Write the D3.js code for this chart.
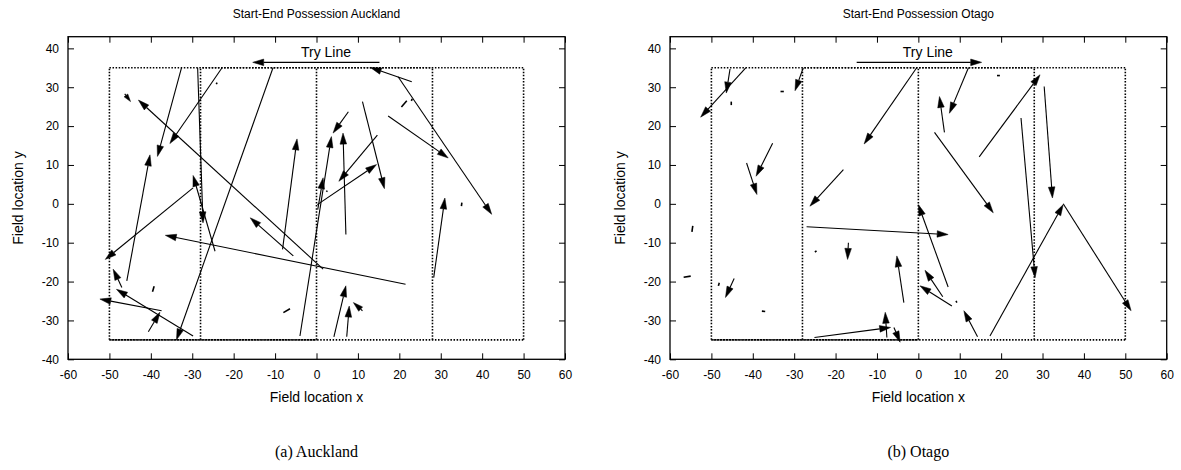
<!DOCTYPE html>
<html>
<head>
<meta charset="utf-8">
<script src="https://cdn.jsdelivr.net/npm/d3@7"></script>
<style>
body{margin:0;background:#fff;}
</style>
</head>
<body>
<div id="svgArea"></div>
<script>
// each arrow: [startX, startY, endX, endY] in field coordinates
var aucklandArrows = [
  [-32.6,35,-38.4,12.2], [-22.8,35,-35.4,15.5], [-28.7,35,-27.4,-4.9],
  [-45.8,-19.8,-40.2,12.6], [-10.5,35,-33.8,-35], [1.6,-16.8,-43,26.7],
  [-5.6,-13.4,-16,-3.6], [-8.2,-11.7,-4.7,16.7], [21.5,-20.7,-36.5,-8.1],
  [-29.8,4.1,-51,-14.3], [-24.5,-12.2,-29.8,7.3], [-47,-21.5,-49.1,-16.8],
  [-29.8,-34,-48.3,-22], [-37.4,-27.5,-52.3,-24.5], [-40.6,-32.9,-37.8,-27.9],
  [-39.6,-22.6,-39.2,-21.2], [-8,-28,-6.4,-27], [-4,-34,3.6,17.3],
  [0.3,-1.5,1.6,6.7], [7.7,23.7,4,18.2], [7.1,-7.9,6.4,18.2],
  [11.1,26.3,16.4,3.9], [14.7,17.7,5.4,5.8], [0.2,-0.2,14.5,10.1],
  [17.3,22.6,31.8,11.8], [23,31.4,13,35.1], [19.7,32.7,42.3,-2.7],
  [20.5,24.9,21.8,26.5], [28.3,-19,31,1.5], [35,-0.6,35.1,0.3],
  [4.2,-34.2,7.1,-21.1], [7.3,-34.2,7.9,-26.3], [11.1,-27.5,8.9,-25.4],
  [-46.3,28.3,-44.9,26.3], [-24.2,30.8,-24,31.2], [2.4,3.1,2.6,3.4],
  [22.9,26.5,23.1,27]
];

var otagoArrows = [
  [-45.5,34.7,-46.4,28.5], [-41.7,35,-52.6,22.3], [-45.2,26.3,-45.2,25.4],
  [-27.8,35,-29.8,29.1], [-33.3,28.9,-32.5,28.9], [-0.4,35,-13.1,15.4],
  [-35.2,15.6,-39.2,7.1], [-41.5,10.5,-39,2.4], [-18.1,8.8,-26.2,-0.6],
  [12.1,35,7.5,23.3], [19,33,19.7,33], [6.3,18.4,5.1,27.6],
  [3.9,18.4,18.1,-2.3], [14.7,12.1,29.4,33.2], [24.8,22.1,28.2,-19],
  [30.4,30.2,32.4,1.5], [17.3,-34,35,-0.2], [35,0,51.4,-27.5],
  [7.2,-21.4,0,-0.2], [-27,-5.9,7.2,-7.9], [5.9,-23.9,1.6,-17.1],
  [8.1,-26.3,0.4,-21.1], [9.1,-25,9.3,-25.4], [14.3,-34.2,11,-27.5],
  [-3.5,-25.4,-5.2,-13.4], [-54.7,-7.2,-54.5,-5.7], [-55,-18.6,-56.7,-18.9],
  [-48.3,-21.1,-48.1,-20.3], [-44.5,-19.2,-46.6,-24.1], [-37,-27.7,-37.8,-27.6],
  [-24.6,-12.1,-25,-12.4], [-16.9,-10,-17.1,-14.3], [-7.6,-34.4,-8,-27.9],
  [-25.1,-34.4,-6.7,-31.8], [-5.9,-31.8,-4.4,-35.6]
];

var xTicks = [-60,-50,-40,-30,-20,-10,0,10,20,30,40,50,60];
var yTicks = [-40,-30,-20,-10,0,10,20,30,40];
var zoneLines = [-28, 0, 28];
var fieldBox = [-50, 50, -35, 35];
var tryLineAuckland = [15.2, -15.4];   // arrow goes from first x to second x
var tryLineOtago = [-14.9, 15.3];
var tryLineY = 36.4;
var panelTitles = ["Start-End Possession Auckland", "Start-End Possession Otago"];
var captions = ["(a) Auckland", "(b) Otago"];

var sans = "'Liberation Sans', Arial, Helvetica, sans-serif";
var svg = d3.select("#svgArea").append("svg").attr("width", 1181).attr("height", 470);

function drawPanel(left, right, arrows, tryLine, title, caption) {
  var g = svg.append("g");
  var xScale = d3.scaleLinear().domain([-60, 60]).range([left, right]);
  var yScale = d3.scaleLinear().domain([-40, 43]).range([359.3, 36.7]);
  var cx = (left + right) / 2;

  // axes, ticks point inward
  var axes = [
    [d3.axisBottom(xScale).tickValues(xTicks).tickFormat(d => String(d)).tickPadding(11), "translate(0,359.3)"],
    [d3.axisTop(xScale).tickValues(xTicks).tickFormat(""), "translate(0,36.7)"],
    [d3.axisLeft(yScale).tickValues(yTicks).tickFormat(d => String(d)).tickPadding(9), "translate(" + left + ",0)"],
    [d3.axisRight(yScale).tickValues(yTicks).tickFormat(""), "translate(" + right + ",0)"]
  ];
  axes.forEach(function(a) {
    var ax = g.append("g").attr("transform", a[1]);
    a[0].tickSizeInner(-6).tickSizeOuter(0)(ax);
    ax.select(".domain").remove();
    ax.attr("font-family", sans).attr("font-size", 12);
    ax.selectAll("line").attr("stroke", "#000").attr("stroke-width", 1);
  });

  g.append("rect")
    .attr("x", left).attr("y", 36.7)
    .attr("width", right - left).attr("height", 359.3 - 36.7)
    .attr("fill", "none").attr("stroke", "#000").attr("stroke-width", 1.3);

  // field zones (dotted)
  function dotted(x1, y1, x2, y2, off) {
    g.append("line")
      .attr("x1", xScale(x1)).attr("y1", yScale(y1))
      .attr("x2", xScale(x2)).attr("y2", yScale(y2))
      .attr("stroke", "#000").attr("stroke-width", 1.6)
      .attr("stroke-dasharray", "1.5,1.6").attr("stroke-dashoffset", off || 0);
  }
  dotted(fieldBox[0], fieldBox[2], fieldBox[1], fieldBox[2]);
  dotted(fieldBox[0], fieldBox[3], fieldBox[1], fieldBox[3]);
  dotted(fieldBox[0], fieldBox[2], fieldBox[0], fieldBox[3]);
  dotted(fieldBox[1], fieldBox[2], fieldBox[1], fieldBox[3]);
  zoneLines.forEach(z => dotted(z, fieldBox[2], z, fieldBox[3]));
  // overlapping borders drawn twice look denser
  dotted(zoneLines[0], fieldBox[3], zoneLines[2], fieldBox[3], 1.2);
  dotted(fieldBox[0], fieldBox[2], zoneLines[1], fieldBox[2], 1.2);

  function drawArrow(d, width) {
    var x1 = xScale(d[0]), y1 = yScale(d[1]), x2 = xScale(d[2]), y2 = yScale(d[3]);
    var dx = x2 - x1, dy = y2 - y1, len = Math.sqrt(dx * dx + dy * dy);
    var ux = dx / len, uy = dy / len;
    if (len < 9) {
      // very short moves show only as a small dash
      g.append("line")
        .attr("x1", x1).attr("y1", y1).attr("x2", x2).attr("y2", y2)
        .attr("stroke", "#000").attr("stroke-width", 1.6);
      return;
    }
    var hl = Math.min(11, len * 0.8), hw = hl * 0.3;
    var bx = x2 - ux * hl, by = y2 - uy * hl;
    g.append("line")
      .attr("x1", x1).attr("y1", y1).attr("x2", bx).attr("y2", by)
      .attr("stroke", "#000").attr("stroke-width", width);
    g.append("polygon")
      .attr("points", [[x2, y2], [bx - uy * hw, by + ux * hw], [bx + uy * hw, by - ux * hw]].join(" "))
      .attr("fill", "#000").attr("stroke", "#000").attr("stroke-width", 0.5);
  }
  arrows.forEach(d => drawArrow(d, 1.1));

  // try line marker
  drawArrow([tryLine[0], tryLineY, tryLine[1], tryLineY], 1.4);
  g.append("text").attr("x", xScale(2.3)).attr("y", yScale(37.8))
    .attr("text-anchor", "middle").attr("font-family", sans).attr("font-size", 14)
    .text("Try Line");

  g.append("text").attr("x", cx).attr("y", 18)
    .attr("text-anchor", "middle").attr("font-family", sans).attr("font-size", 12)
    .text(title);
  g.append("text").attr("x", cx).attr("y", 402)
    .attr("text-anchor", "middle").attr("font-family", sans).attr("font-size", 14)
    .text("Field location x");
  g.append("text").attr("transform", "translate(" + (left - 45) + ",198) rotate(-90)")
    .attr("text-anchor", "middle").attr("font-family", sans).attr("font-size", 14)
    .text("Field location y");
  g.append("text").attr("x", cx).attr("y", 457)
    .attr("text-anchor", "middle").attr("font-family", "'Liberation Serif', 'Times New Roman', serif")
    .attr("font-size", 16)
    .text(caption);
}

drawPanel(68, 565, aucklandArrows, tryLineAuckland, panelTitles[0], captions[0]);
drawPanel(670, 1166.7, otagoArrows, tryLineOtago, panelTitles[1], captions[1]);
</script>
</body>
</html>
